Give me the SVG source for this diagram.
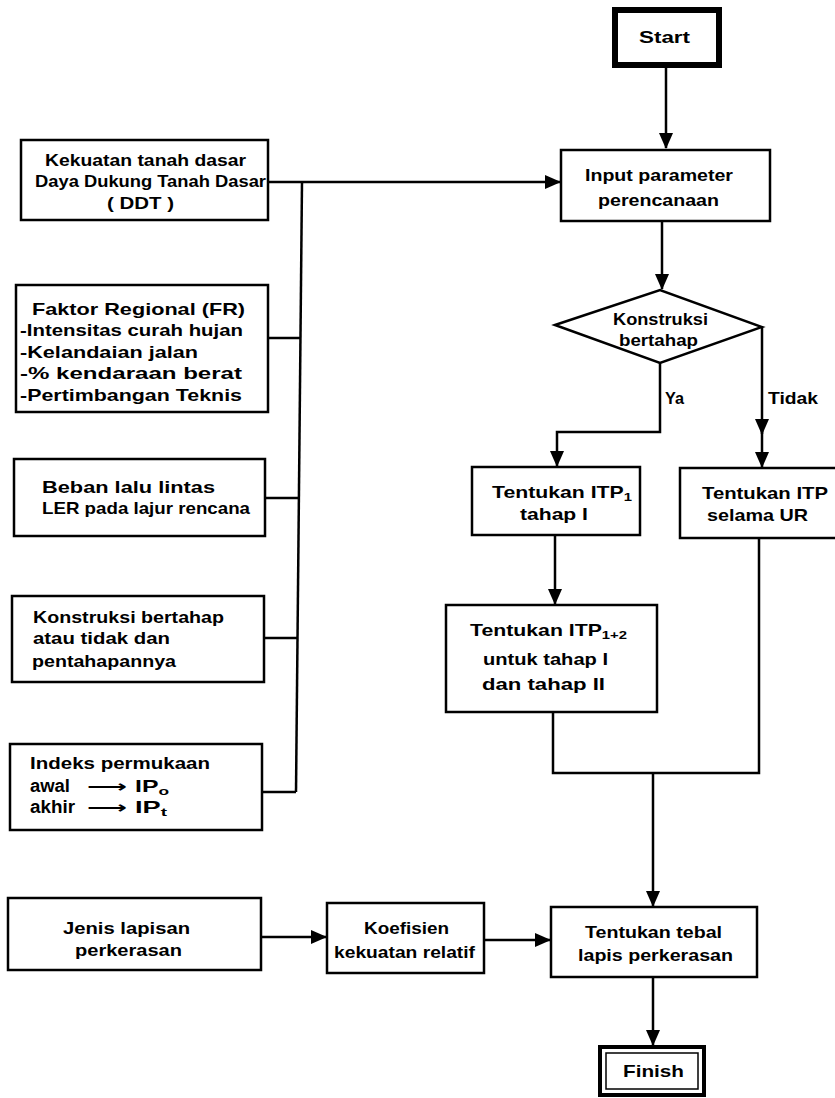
<svg xmlns="http://www.w3.org/2000/svg" width="835" height="1098" viewBox="0 0 835 1098">
<style>
.box{fill:#fff;stroke:#000;stroke-width:2.5}
.t{font-family:"Liberation Sans",Arial,sans-serif;font-weight:bold;font-size:16.5px;fill:#000}
.big{font-size:17.5px}
.ar{font-family:"DejaVu Sans",sans-serif;font-weight:bold;font-size:16.5px;fill:#000}
.ln{fill:none;stroke:#000;stroke-width:2.5}
.sub{font-size:11.5px}
</style>
<defs>
<marker id="ah" markerUnits="userSpaceOnUse" markerWidth="16" markerHeight="14" refX="15" refY="7" orient="auto">
<path d="M0,0 L16,7 L0,14 Z" fill="#000"/>
</marker>
</defs>
<rect width="835" height="1098" fill="#fff"/>

<g id="connectors">
<path class="ln" d="M666,66 V148" marker-end="url(#ah)"/>
<path class="ln" d="M268,182 H560" marker-end="url(#ah)"/>
<path class="ln" d="M302,182 L296,792"/>
<path class="ln" d="M268,338 H300"/>
<path class="ln" d="M265,498 H299"/>
<path class="ln" d="M264,638 H298"/>
<path class="ln" d="M262,792 H296"/>
<path class="ln" d="M662,221 V289" marker-end="url(#ah)"/>
<path class="ln" d="M660,363 V432 H557 V466" marker-end="url(#ah)"/>
<path class="ln" d="M762,327 V434" marker-end="url(#ah)"/>
<path class="ln" d="M762,430 V467" marker-end="url(#ah)"/>
<path class="ln" d="M555,535 V604" marker-end="url(#ah)"/>
<path class="ln" d="M553,712 V773 H759 V538"/>
<path class="ln" d="M653,773 V906" marker-end="url(#ah)"/>
<path class="ln" d="M261,937 H326" marker-end="url(#ah)"/>
<path class="ln" d="M484,940 H550" marker-end="url(#ah)"/>
<path class="ln" d="M653,977 V1045" marker-end="url(#ah)"/>
</g>

<g id="start">
<rect x="615" y="10" width="104" height="55" fill="#fff" stroke="#000" stroke-width="6"/>
<text class="t" x="639" y="43" textLength="51" lengthAdjust="spacingAndGlyphs">Start</text>
</g>

<g id="input">
<rect class="box" x="561" y="150" width="209" height="71"/>
<text class="t" x="585" y="181" textLength="148" lengthAdjust="spacingAndGlyphs">Input parameter</text>
<text class="t" x="598" y="206" textLength="121" lengthAdjust="spacingAndGlyphs">perencanaan</text>
</g>

<g id="kekuatan">
<rect class="box" x="21" y="140" width="247" height="80"/>
<text class="t" x="45" y="166" textLength="201" lengthAdjust="spacingAndGlyphs">Kekuatan tanah dasar</text>
<text class="t" x="35" y="187" textLength="231" lengthAdjust="spacingAndGlyphs">Daya Dukung Tanah Dasar</text>
<text class="t" x="107" y="209" textLength="67" lengthAdjust="spacingAndGlyphs">( DDT )</text>
</g>

<g id="faktor">
<rect class="box" x="16" y="285" width="252" height="127"/>
<text class="t" x="32" y="315" textLength="213" lengthAdjust="spacingAndGlyphs">Faktor Regional (FR)</text>
<text class="t" x="20" y="336" textLength="223" lengthAdjust="spacingAndGlyphs">-Intensitas curah hujan</text>
<text class="t" x="20" y="358" textLength="178" lengthAdjust="spacingAndGlyphs">-Kelandaian jalan</text>
<text class="t" x="20" y="379" textLength="222" lengthAdjust="spacingAndGlyphs">-% kendaraan berat</text>
<text class="t" x="20" y="401" textLength="222" lengthAdjust="spacingAndGlyphs">-Pertimbangan Teknis</text>
</g>

<g id="beban">
<rect class="box" x="14" y="459" width="251" height="77"/>
<text class="t" x="42" y="493" textLength="173" lengthAdjust="spacingAndGlyphs">Beban lalu lintas</text>
<text class="t" x="42" y="514" textLength="208" lengthAdjust="spacingAndGlyphs">LER pada lajur rencana</text>
</g>

<g id="konstruksi-input">
<rect class="box" x="12" y="596" width="252" height="86"/>
<text class="t" x="33" y="623" textLength="191" lengthAdjust="spacingAndGlyphs">Konstruksi bertahap</text>
<text class="t" x="33" y="644" textLength="137" lengthAdjust="spacingAndGlyphs">atau tidak dan</text>
<text class="t" x="32" y="667" textLength="144" lengthAdjust="spacingAndGlyphs">pentahapannya</text>
</g>

<g id="indeks">
<rect class="box" x="10" y="744" width="252" height="86"/>
<text class="t" x="30" y="769" textLength="180" lengthAdjust="spacingAndGlyphs">Indeks permukaan</text>
<text class="t big" x="30" y="792" textLength="40" lengthAdjust="spacingAndGlyphs">awal</text>
<text class="ar" x="87" y="792" textLength="40" lengthAdjust="spacingAndGlyphs">⟶</text>
<text class="t" x="135" y="792" textLength="34" lengthAdjust="spacingAndGlyphs">IP<tspan class="sub" dy="3">o</tspan></text>
<text class="t big" x="30" y="813" textLength="45" lengthAdjust="spacingAndGlyphs">akhir</text>
<text class="ar" x="87" y="813" textLength="40" lengthAdjust="spacingAndGlyphs">⟶</text>
<text class="t" x="135" y="813" textLength="32" lengthAdjust="spacingAndGlyphs">IP<tspan class="sub" dy="3">t</tspan></text>
</g>

<g id="decision">
<polygon points="555,325 660,290 762,327 660,363" fill="#fff" stroke="#000" stroke-width="2.5"/>
<text class="t" x="613" y="325" textLength="95" lengthAdjust="spacingAndGlyphs">Konstruksi</text>
<text class="t" x="619" y="346" textLength="79" lengthAdjust="spacingAndGlyphs">bertahap</text>
</g>

<text class="t" x="665" y="404" textLength="19" lengthAdjust="spacingAndGlyphs">Ya</text>
<text class="t" x="768" y="404" textLength="50" lengthAdjust="spacingAndGlyphs">Tidak</text>

<g id="itp1">
<rect class="box" x="472" y="467" width="168" height="68"/>
<text class="t" x="492" y="498" textLength="140" lengthAdjust="spacingAndGlyphs">Tentukan ITP<tspan class="sub" dy="3">1</tspan></text>
<text class="t" x="520" y="520" textLength="68" lengthAdjust="spacingAndGlyphs">tahap I</text>
</g>

<g id="itp-ur">
<rect class="box" x="680" y="468" width="160" height="70"/>
<text class="t" x="702" y="499" textLength="126" lengthAdjust="spacingAndGlyphs">Tentukan ITP</text>
<text class="t" x="707" y="521" textLength="101" lengthAdjust="spacingAndGlyphs">selama UR</text>
</g>

<g id="itp12">
<rect class="box" x="446" y="605" width="211" height="107"/>
<text class="t" x="470" y="636" textLength="157" lengthAdjust="spacingAndGlyphs">Tentukan ITP<tspan class="sub" dy="3">1+2</tspan></text>
<text class="t" x="483" y="665" textLength="125" lengthAdjust="spacingAndGlyphs">untuk tahap I</text>
<text class="t" x="482" y="690" textLength="123" lengthAdjust="spacingAndGlyphs">dan tahap II</text>
</g>

<g id="jenis">
<rect class="box" x="8" y="898" width="253" height="72"/>
<text class="t" x="63" y="934" textLength="127" lengthAdjust="spacingAndGlyphs">Jenis lapisan</text>
<text class="t" x="75" y="956" textLength="107" lengthAdjust="spacingAndGlyphs">perkerasan</text>
</g>

<g id="koefisien">
<rect class="box" x="327" y="903" width="157" height="70"/>
<text class="t" x="364" y="934" textLength="85" lengthAdjust="spacingAndGlyphs">Koefisien</text>
<text class="t" x="334" y="958" textLength="141" lengthAdjust="spacingAndGlyphs">kekuatan relatif</text>
</g>

<g id="tebal">
<rect class="box" x="551" y="907" width="206" height="70"/>
<text class="t" x="585" y="938" textLength="137" lengthAdjust="spacingAndGlyphs">Tentukan tebal</text>
<text class="t" x="578" y="961" textLength="155" lengthAdjust="spacingAndGlyphs">lapis perkerasan</text>
</g>

<g id="finish">
<rect x="600" y="1047" width="104" height="48" fill="#fff" stroke="#000" stroke-width="4"/>
<rect x="606" y="1053" width="92" height="36" fill="none" stroke="#000" stroke-width="1.5"/>
<text class="t" x="623" y="1077" textLength="61" lengthAdjust="spacingAndGlyphs">Finish</text>
</g>
</svg>
